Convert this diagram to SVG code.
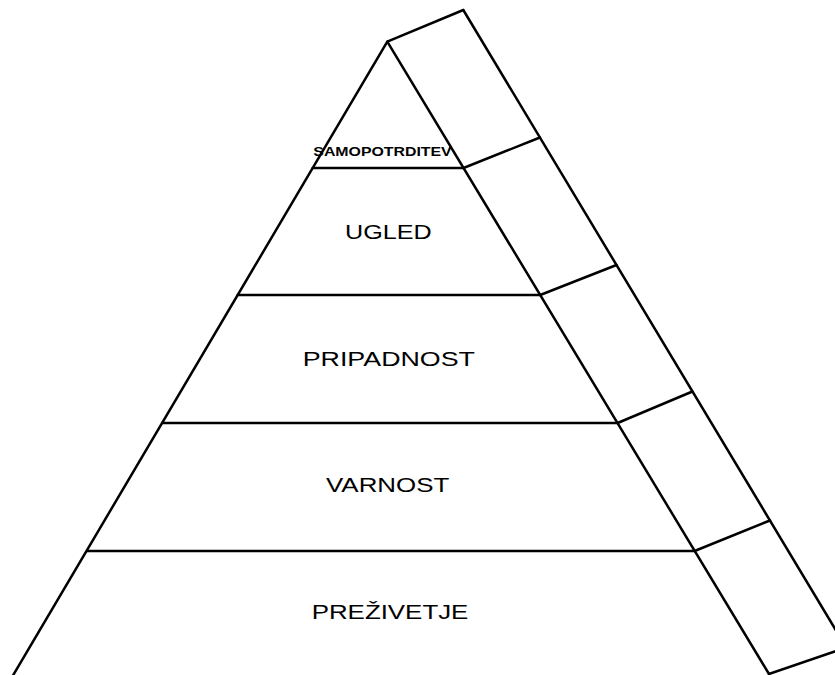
<svg xmlns="http://www.w3.org/2000/svg" width="835" height="675" viewBox="0 0 835 675">
<style>
.ln{stroke:#000;stroke-width:2.5;fill:none;stroke-linecap:round;stroke-linejoin:round}
.lbl{font-family:"Liberation Sans",Arial,sans-serif;font-size:20px;fill:#000}
.top{font-family:"Liberation Sans",Arial,sans-serif;font-size:12.5px;font-weight:bold;fill:#000}
</style>
<rect width="835" height="675" fill="#fff"/>
<g id="connectors">
<line class="ln" x1="387.3" y1="41.7" x2="10.3" y2="680"/>
<line class="ln" x1="387.3" y1="41.7" x2="769" y2="674"/>
<line class="ln" x1="387.3" y1="41.7" x2="463.3" y2="10"/>
<line class="ln" x1="463.3" y1="10" x2="870" y2="687"/>
</g>
<g id="samopotrditev">
<line class="ln" x1="312.7" y1="168" x2="463.5" y2="168"/>
<line class="ln" x1="463.5" y1="168" x2="539.9" y2="137.5"/>
<text class="top" x="313.3" y="155.7" textLength="138.4" lengthAdjust="spacingAndGlyphs">SAMOPOTRDITEV</text>
</g>
<g id="ugled">
<line class="ln" x1="237.7" y1="295" x2="540.2" y2="295"/>
<line class="ln" x1="540.2" y1="295" x2="616.5" y2="265"/>
<text class="lbl" x="345" y="239" textLength="86.7" lengthAdjust="spacingAndGlyphs">UGLED</text>
</g>
<g id="pripadnost">
<line class="ln" x1="162.4" y1="423" x2="617.6" y2="423"/>
<line class="ln" x1="617.6" y1="423" x2="692.4" y2="391.5"/>
<text class="lbl" x="302.7" y="366" textLength="172.3" lengthAdjust="spacingAndGlyphs">PRIPADNOST</text>
</g>
<g id="varnost">
<line class="ln" x1="87.1" y1="551" x2="694.6" y2="551"/>
<line class="ln" x1="694.6" y1="551" x2="769.9" y2="520.5"/>
<text class="lbl" x="326" y="492.3" textLength="123.3" lengthAdjust="spacingAndGlyphs">VARNOST</text>
</g>
<g id="prezivetje">
<line class="ln" x1="769" y1="674" x2="845" y2="648"/>
<text class="lbl" x="311.7" y="619" textLength="156.7" lengthAdjust="spacingAndGlyphs">PREŽIVETJE</text>
</g>
</svg>
